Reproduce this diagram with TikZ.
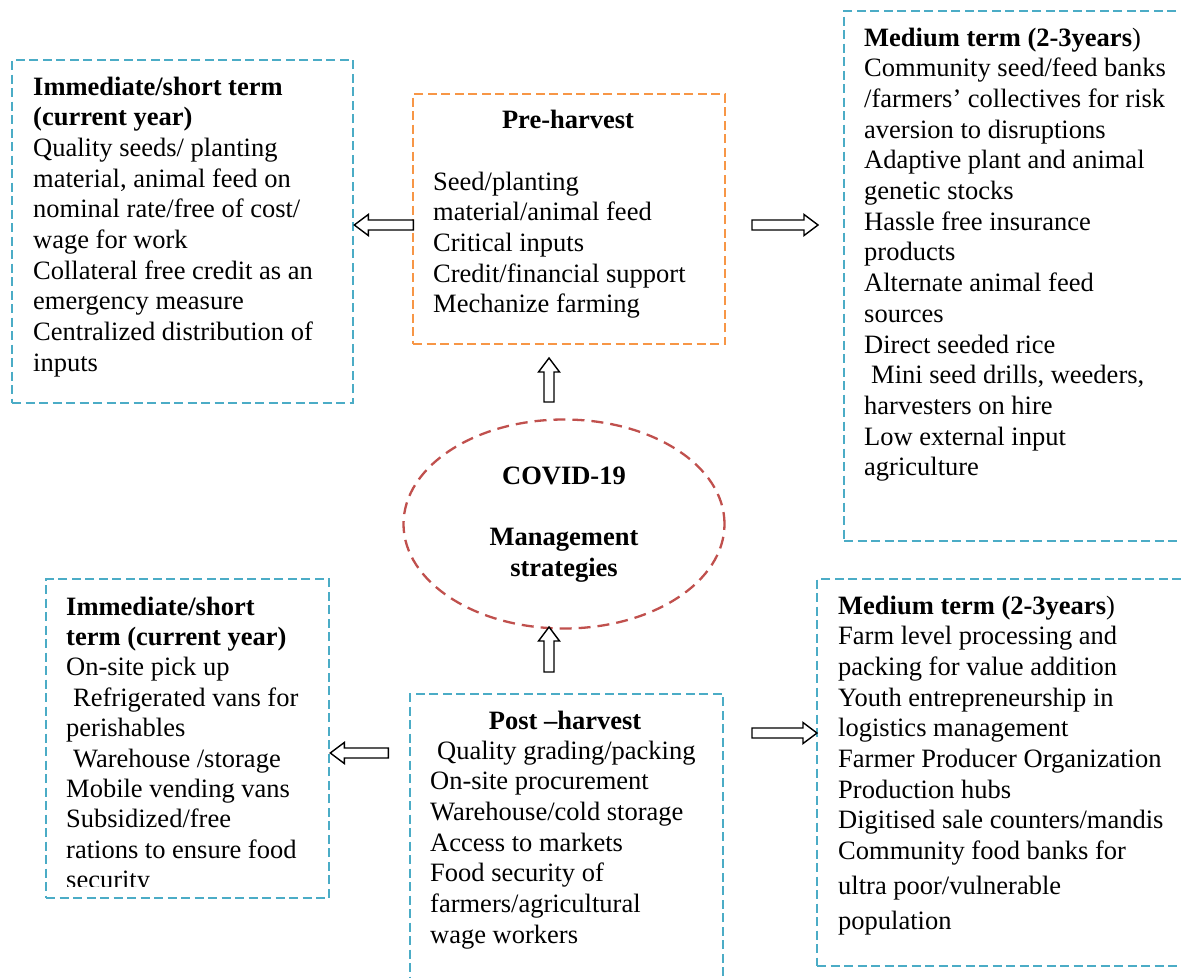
\documentclass[tikz,border=0pt]{standalone}
\usepackage{fontspec}
\setmainfont{Liberation Serif}
\usetikzlibrary{shapes.geometric}
\definecolor{cyanb}{RGB}{75,172,198}
\definecolor{orangeb}{RGB}{247,150,70}
\definecolor{redb}{RGB}{192,80,77}
\newcommand{\tblock}[1]{\begin{tabular}[t]{@{}l@{}}#1\end{tabular}}
\newcommand{\cblock}[1]{\begin{tabular}[t]{@{}c@{}}#1\end{tabular}}
\tikzset{
  dbox/.style={draw=#1, line width=2.3bp, dash pattern=on 9bp off 4.5bp, inner sep=0pt, anchor=north west, rectangle},
  txt/.style={inner sep=0pt, anchor=base west, font=\fontsize{26.5bp}{30.7bp}\selectfont},
  ctxt/.style={inner sep=0pt, anchor=base, font=\fontsize{26.5bp}{30.7bp}\selectfont\bfseries},
  arrowline/.style={draw=black, line width=1.4bp, fill=white, line join=miter},
  pics/barrow/.style={code={\draw[arrowline] (0,0) -- (-14,-10.5) -- (-14,-5) -- (-#1,-5) -- (-#1,5) -- (-14,5) -- (-14,10.5) -- cycle;}}
}
\begin{document}
\begin{tikzpicture}[x=1bp,y=-1bp]
\useasboundingbox (0,0) rectangle (1181,978);
\clip (0,0) rectangle (1181,978);

% boxes
\node[dbox=cyanb, minimum width=341bp, minimum height=343bp] (stl) at (11,59) {};
\node[dbox=orangeb, minimum width=312bp, minimum height=250bp] (pre) at (412,93) {};
\node[dbox=cyanb, minimum width=360bp, minimum height=530bp] (mtr) at (843,10) {};
\node[draw=redb, line width=2.3bp, dash pattern=on 12bp off 7bp, ellipse, inner sep=0pt, minimum width=321bp, minimum height=209bp] (covid) at (564,524) {};
\node[dbox=cyanb, minimum width=283bp, minimum height=319bp] (sbl) at (45,578) {};
\node[dbox=cyanb, minimum width=313bp, minimum height=320bp] (post) at (409,693) {};
\node[dbox=cyanb, minimum width=380bp, minimum height=387bp] (mbr) at (816,578) {};

% texts
\node[txt] (stltext) at (33,95) {\tblock{%
\textbf{Immediate/short term}\\
\textbf{(current year)}\\
Quality seeds/ planting\\
material, animal feed on\\
nominal rate/free of cost/\\
wage for work\\
Collateral free credit as an\\
emergency measure\\
Centralized distribution of\\
inputs}};

\node[ctxt] (prehead) at (568,128) {Pre-harvest};
\node[txt] (pretext) at (433,190) {\tblock{%
Seed/planting\\
material/animal feed\\
Critical inputs\\
Credit/financial support\\
Mechanize farming}};

\node[txt] (mtrtext) at (864,46) {\tblock{%
\textbf{Medium term (2-3years})\\
Community seed/feed banks\\
/farmers’ collectives for risk\\
aversion to disruptions\\
Adaptive plant and animal\\
genetic stocks\\
Hassle free insurance\\
products\\
Alternate animal feed\\
sources\\
Direct seeded rice\\
\hspace*{7bp}Mini seed drills, weeders,\\
harvesters on hire\\
Low external input\\
agriculture}};

\node[ctxt] (covidtext) at (564,484) {\cblock{COVID-19\\[31bp] Management\\ strategies}};

\begin{scope}
\clip (40,570) rectangle (335,886);
\node[txt, font=\fontsize{26.5bp}{30.4bp}\selectfont] (sbltext) at (66,615) {\tblock{%
\textbf{Immediate/short}\\
\textbf{term (current year)}\\
On-site pick up\\
\hspace*{7bp}Refrigerated vans for\\
perishables\\
\hspace*{7bp}Warehouse /storage\\
Mobile vending vans\\
Subsidized/free\\
rations to ensure food\\
security}};
\end{scope}

\node[ctxt] (posthead) at (565,729) {Post –harvest};
\node[txt] (posttext) at (430,759) {\tblock{%
\hspace*{7bp}Quality grading/packing\\
On-site procurement\\
Warehouse/cold storage\\
Access to markets\\
Food security of\\
farmers/agricultural\\
wage workers}};

\node[txt] (mbrtext) at (838,614) {\tblock{%
\textbf{Medium term (2-3years})\\
Farm level processing and\\
packing for value addition\\
Youth entrepreneurship in\\
logistics management\\
Farmer Producer Organization\\
Production hubs\\
Digitised sale counters/mandis\\
Community food banks for\\[4.3bp]
ultra poor/vulnerable\\[4.3bp]
population}};

% block arrows (tip coordinates)
\coordinate (a1) at (stl.east |- 0,225);
\coordinate (a2) at (818,225);
\coordinate (a3) at (549,358);
\coordinate (a4) at (549,627);
\coordinate (a5) at (sbl.east |- 0,753);
\coordinate (a6) at (817,733);
\pic[rotate=180] at (a1) {barrow=59};
\pic at (a2) {barrow=66};
\pic[rotate=90] at (a3) {barrow=44};
\pic[rotate=90] at (a4) {barrow=45};
\pic[rotate=180] at (a5) {barrow=58};
\pic at (a6) {barrow=65};
\end{tikzpicture}
\end{document}
